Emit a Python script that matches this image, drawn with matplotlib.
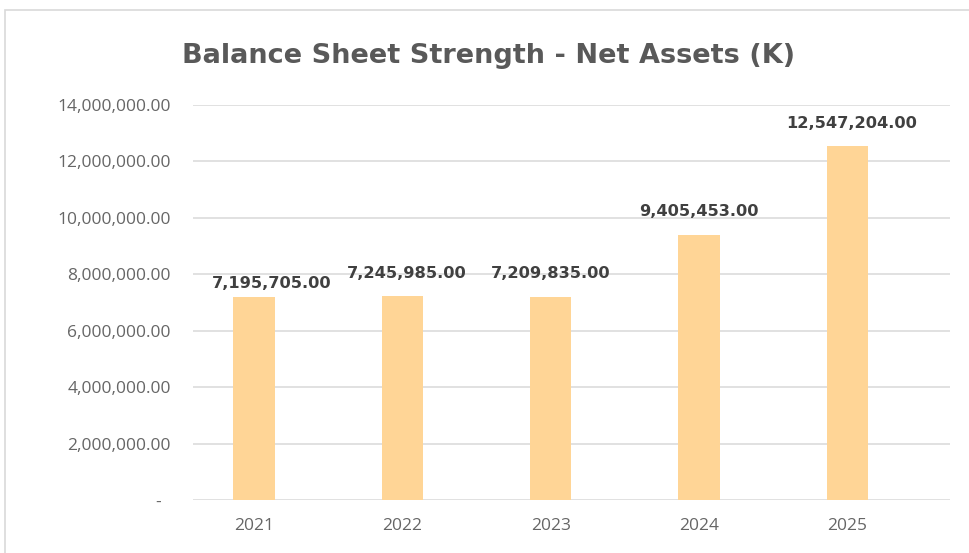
import matplotlib
matplotlib.use("Agg")
import matplotlib.pyplot as plt
from matplotlib.patches import Rectangle

years = ["2021", "2022", "2023", "2024", "2025"]
net_assets = [7195705.00, 7245985.00, 7209835.00, 9405453.00, 12547204.00]
y_ticks = [0, 2000000, 4000000, 6000000, 8000000, 10000000, 12000000, 14000000]
y_tick_labels = ["-  ", "2,000,000.00", "4,000,000.00", "6,000,000.00", "8,000,000.00",
                 "10,000,000.00", "12,000,000.00", "14,000,000.00"]
title = "Balance Sheet Strength - Net Assets (K)"

plt.rcParams["font.family"] = ["Open Sans", "DejaVu Sans"]

W, H = 969, 553
fig = plt.figure(figsize=(W / 100, H / 100), dpi=100)
fig.patch.set_facecolor("white")

# chart frame
fig.patches.append(Rectangle((5 / W, -0.05), 1.1, 1 - 10 / H + 0.05,
                             transform=fig.transFigure, fill=False,
                             edgecolor="#D9D9D9", linewidth=1.2))

ax = fig.add_axes([193 / W, 1 - 500 / H, (950 - 193) / W, (500 - 105) / H])
x = list(range(len(years)))
ax.bar(x, net_assets, width=0.28, color="#FFD596", zorder=2)

ax.set_xlim(-0.41, 4.69)
ax.set_ylim(0, 14000000)
ax.set_yticks(y_ticks)
ax.set_yticklabels(y_tick_labels)
ax.set_xticks(x)
ax.set_xticklabels(years)
ax.tick_params(axis="y", length=0, pad=16, labelsize=12.5, labelcolor="#666666")
ax.tick_params(axis="x", length=0, pad=13, labelsize=12.5, labelcolor="#666666")
ax.grid(axis="y", color="#D9D9D9", linewidth=1.1, zorder=0)
ax.set_axisbelow(True)
for s in ax.spines.values():
    s.set_visible(False)

# value labels sit above each bar; the first one is nudged right
label_offsets = [(13, 10), (3, 16), (0, 16.5), (0, 17), (3, 16.5)]
for xi, v, off in zip(x, net_assets, label_offsets):
    ax.annotate(f"{v:,.2f}", (xi, v), xytext=off, textcoords="offset points",
                ha="center", va="center", fontsize=11.7, fontweight="bold",
                color="#404040", family="DejaVu Sans")

fig.text(488.5 / W, 1 - 63 / H, title, ha="center", va="baseline",
         fontsize=19.5, fontweight="bold", color="#595959", family="DejaVu Sans")

fig.savefig("out.png", dpi=100)
